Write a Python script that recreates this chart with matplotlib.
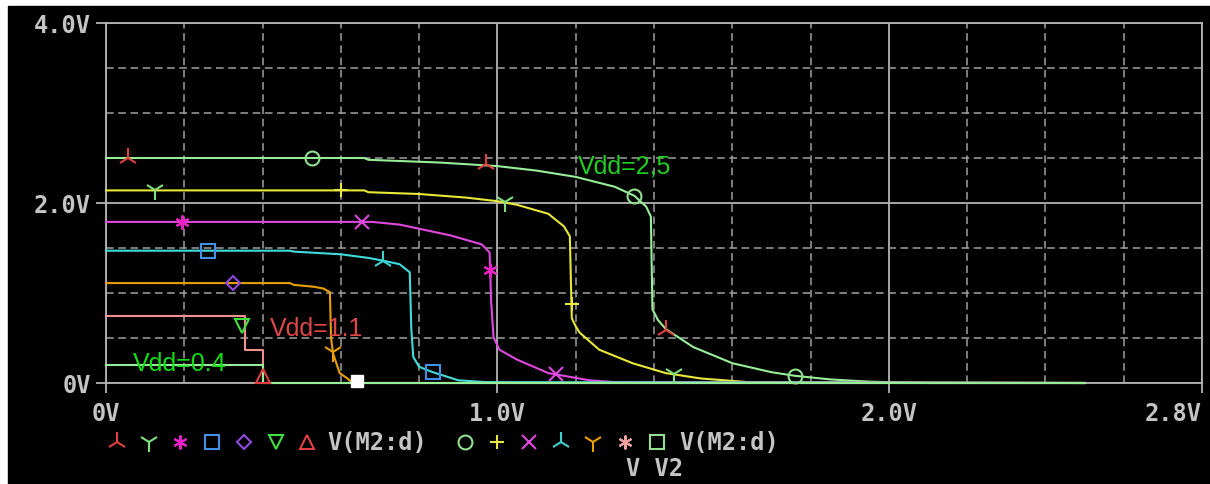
import matplotlib
matplotlib.use("Agg")
import matplotlib.pyplot as plt
from matplotlib.lines import Line2D
from matplotlib.patches import Rectangle
import numpy as np

# traces: output V(M2:d) versus V2, one per Vdd value
g25_x = [0, 0.66, 0.67, 0.85, 1.0, 1.1, 1.2, 1.3, 1.35, 1.38, 1.392, 1.396, 1.41, 1.43, 1.5, 1.6, 1.7, 1.76, 1.85, 1.95, 2.1, 2.5]
g25_y = [2.50, 2.50, 2.48, 2.45, 2.41, 2.36, 2.29, 2.18, 2.08, 1.96, 1.85, 0.82, 0.70, 0.60, 0.40, 0.22, 0.12, 0.08, 0.04, 0.015, 0.0, 0.0]

yl_x = [0, 0.66, 0.67, 0.8, 0.92, 1.0, 1.05, 1.13, 1.17, 1.185, 1.19, 1.20, 1.21, 1.26, 1.345, 1.43, 1.52, 1.64, 2.5]
yl_y = [2.14, 2.14, 2.12, 2.10, 2.06, 2.02, 1.98, 1.88, 1.74, 1.63, 0.72, 0.63, 0.56, 0.37, 0.22, 0.11, 0.05, 0.01, 0]

mg_x = [0, 0.68, 0.75, 0.88, 0.96, 0.98, 0.984, 0.99, 1.005, 1.05, 1.13, 1.235, 1.30, 2.5]
mg_y = [1.79, 1.79, 1.76, 1.64, 1.54, 1.45, 0.90, 0.51, 0.37, 0.26, 0.11, 0.03, 0.01, 0]

cy_x = [0, 0.47, 0.48, 0.6, 0.67, 0.707, 0.75, 0.776, 0.78, 0.785, 0.80, 0.835, 0.9, 0.97, 2.5]
cy_y = [1.47, 1.47, 1.46, 1.43, 1.39, 1.36, 1.32, 1.23, 0.60, 0.29, 0.18, 0.12, 0.03, 0.01, 0]

or_x = [0, 0.47, 0.48, 0.53, 0.555, 0.572, 0.575, 0.58, 0.597, 0.617, 0.63, 2.5]
or_y = [1.11, 1.11, 1.09, 1.07, 1.05, 1.01, 0.50, 0.33, 0.11, 0.05, 0.0, 0]

pk_x = [0, 0.355, 0.355, 0.40, 0.40, 2.5]
pk_y = [0.75, 0.75, 0.37, 0.37, 0.0, 0]

g04_x = [0, 0.40, 0.40, 2.5]
g04_y = [0.20, 0.20, 0.0, 0]

# symbol positions on each trace (first and second symbol set)
g25_ma = ([0.056, 0.97, 1.43], [2.50, 2.43, 0.59])
g25_mb = ([0.526, 1.35, 1.76], [2.50, 2.08, 0.08])
yl_ma = ([0.125, 1.02, 1.45], [2.14, 2.01, 0.10])
yl_mb = ([0.60, 1.19], [2.14, 0.88])
mg_ma = ([0.194, 0.98], [1.79, 1.26])
mg_mb = ([0.653, 1.15], [1.79, 0.10])
cy_ma = ([0.26, 0.835], [1.47, 0.12])
cy_mb = ([0.707], [1.36])
or_ma = ([0.325], [1.11])
or_mb = ([0.58], [0.35])
pk_ma = ([0.347], [0.63])
g04_ma = ([0.40], [0.08])
g04_mb = ([0.64], [0.02])

x_ticks = [0, 1.0, 2.0, 2.8]
x_tick_labels = ["0V", "1.0V", "2.0V", "2.8V"]
y_ticks = [0, 2.0, 4.0]
y_tick_labels = ["0V", "2.0V", "4.0V"]

W, H = 1210, 485
GREY = "#b4b4b4"
MONO = "DejaVu Sans Mono"

fig = plt.figure(figsize=(W / 100, H / 100), dpi=100, facecolor="white")
fig.patches.append(Rectangle((8 / W, 0), 1 - 8 / W, 1 - 7 / H, transform=fig.transFigure,
                             color="black", zorder=-10))

ax = fig.add_axes([106 / W, 1 - 384 / H, (1202 - 106) / W, (384 - 24) / H])
ax.set_facecolor("black")
ax.set_xlim(0, 2.8)
ax.set_ylim(0, 4.0)

# grid
ax.set_xticks(np.arange(0.2, 2.7, 0.2), minor=True)
ax.set_yticks(np.arange(0.5, 4.0, 0.5), minor=True)
ax.grid(which="minor", color="#a0a0a0", lw=1.1, linestyle=(0, (5, 3)))
ax.grid(which="major", color=GREY, lw=1.3, linestyle="-")
ax.set_axisbelow(True)

ax.set_xticks(x_ticks)
ax.set_xticklabels(x_tick_labels)
ax.set_yticks(y_ticks)
ax.set_yticklabels(y_tick_labels)
ax.tick_params(which="minor", length=0)
ax.tick_params(which="major", direction="out", length=7, width=1.3, color=GREY,
               labelcolor="#c4c4c4", labelsize=17)
ax.tick_params(axis="x", pad=6)
ax.tick_params(axis="y", pad=4)
for lab in ax.get_xticklabels() + ax.get_yticklabels():
    lab.set_family(MONO)
    lab.set_weight("bold")
ax.get_xticklabels()[-1].set_ha("right")
ax.get_xticklabels()[-1].set_x(2.8)
for s in ax.spines.values():
    s.set_color(GREY)
    s.set_linewidth(1.3)

traces = [
    (g25_x, g25_y, "#98ee98"),
    (yl_x, yl_y, "#e8e838"),
    (mg_x, mg_y, "#e048e0"),
    (cy_x, cy_y, "#40dcdc"),
    (or_x, or_y, "#e8a000"),
    (pk_x, pk_y, "#f09090"),
    (g04_x, g04_y, "#98ee98"),
]
for x, y, c in traces:
    ax.plot(x, y, color=c, lw=1.5, zorder=3, clip_on=False)

ast = (6, 2, 0)
sym_a = [("2", "#e04040"), ("1", "#80e080"), (ast, "#f020c8"), ("s", "#4090e8"),
         ("D", "#9048e0"), ("v", "#40e040"), ("^", "#e04040")]
sym_b = [("o", "#90e090"), ("+", "#e8e840"), ("x", "#e048e0"), ("2", "#40d0d0"),
         ("1", "#e8a000"), (ast, "#f0a0a0"), ("s", "#90e090")]


def msize(m):
    if m in ("1", "2"):
        return 15
    if m == "D":
        return 7.5
    return 10


marks_a = [g25_ma, yl_ma, mg_ma, cy_ma, or_ma, pk_ma, g04_ma]
marks_b = [g25_mb, yl_mb, mg_mb, cy_mb, or_mb, None, g04_mb]

for (m, c), pts in zip(sym_a, marks_a):
    if pts is None:
        continue
    ax.plot(pts[0], pts[1], ls="none", marker=m, ms=msize(m), mew=1.5, mec=c, mfc="none",
            zorder=4, clip_on=False)
for i, ((m, c), pts) in enumerate(zip(sym_b, marks_b)):
    if pts is None:
        continue
    if i == 6:
        ax.plot(pts[0], pts[1], ls="none", marker="s", ms=9, mec="white", mfc="white",
                zorder=4, clip_on=False)
    else:
        ax.plot(pts[0], pts[1], ls="none", marker=m, ms=msize(m), mew=1.5, mec=c, mfc="none",
                zorder=4, clip_on=False)

# labels on the plot
ax.text(1.205, 2.42, "Vdd=2,5", color="#20d020", fontsize=18, family="Liberation Sans",
        va="center", ha="left", zorder=5)
ax.text(0.419, 0.61, "Vdd=1.1", color="#e04848", fontsize=18, family="Liberation Sans",
        va="center", ha="left", zorder=5)
ax.text(0.069, 0.22, "Vdd=0.4", color="#10e010", fontsize=18, family="Liberation Sans",
        va="center", ha="left", zorder=5)


def fx(px):
    return px / W


def fy(py):
    return 1 - py / H


# legend row
leg_y = 443
for i, (m, c) in enumerate(sym_a):
    fig.add_artist(Line2D([fx(117 + i * 31.7)], [fy(leg_y)], marker=m, ms=msize(m), mew=1.5,
                          mec=c, mfc="none", ls="none", transform=fig.transFigure))
for i, (m, c) in enumerate(sym_b):
    fig.add_artist(Line2D([fx(465 + i * 32)], [fy(leg_y)], marker=m, ms=msize(m), mew=1.5,
                          mec=c, mfc="none", ls="none", transform=fig.transFigure))
for left in (327, 679):
    fig.text(fx(left), fy(leg_y), "V(M2:d)", color="#c4c4c4", fontsize=17, family=MONO,
             weight="bold", ha="left", va="center")
fig.text(fx(654), fy(469), "V V2", color="#c4c4c4", fontsize=17, family=MONO,
         weight="bold", ha="center", va="center")

fig.savefig("out.png", dpi=100, facecolor=fig.get_facecolor())
